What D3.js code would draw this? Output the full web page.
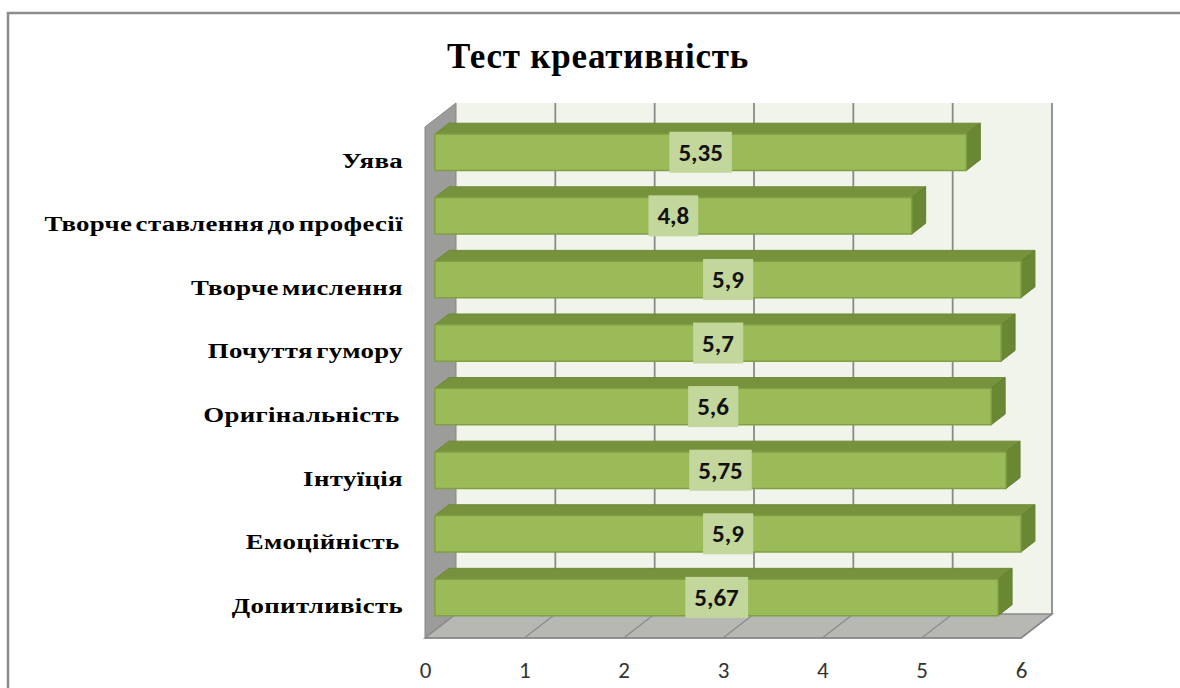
<!DOCTYPE html>
<html>
<head>
<meta charset="utf-8">
<script src="https://cdn.jsdelivr.net/npm/d3@7"></script>
<style>
  body { margin: 0; background: #fff; }
  svg { display: block; }
  .cat { white-space: pre; }
</style>
</head>
<body>
<script>
// chart data
const categories = ["Уява", "Творче ставлення до професії", "Творче мислення", "Почуття гумору",
                    "Оригінальність ", "Інтуїція", "Емоційність ", "Допитливість"];
const values = [5.35, 4.8, 5.9, 5.7, 5.6, 5.75, 5.9, 5.67];
const valueLabels = ["5,35", "4,8", "5,9", "5,7", "5,6", "5,75", "5,9", "5,67"];
const xTicks = [0, 1, 2, 3, 4, 5, 6];
const title = "Тест креативність";

const W = 1180, H = 688;
const DX = 31, DY = 24;       // depth offset of the back wall
const Z1 = 0.32, Z2 = 0.77;   // bar depth range
const yTop = 127, yBottom = 638;

const svg = d3.select("body").append("svg")
  .attr("width", W).attr("height", H);

// outer frame
svg.append("rect")
  .attr("x", 8).attr("y", 13).attr("width", 1190).attr("height", 700)
  .attr("fill", "#fff").attr("stroke", "#8c8c8c").attr("stroke-width", 2.5);

const x = d3.scaleLinear().domain([0, 6]).range([425, 1021]);
const y = d3.scaleBand().domain(categories).range([yTop, yBottom])
  .paddingInner(0.426).paddingOuter(0.231);

// project a point (value, screen y on front plane, depth)
function P(v, yy, z) {
  return [x(v) + z * DX, yy - z * DY];
}
const poly = pts => "M" + pts.map(p => p.join(",")).join("L") + "Z";

// walls
svg.append("path")
  .attr("d", poly([P(0, yTop, 1), P(6, yTop, 1), P(6, yBottom, 1), P(0, yBottom, 1)]))
  .attr("fill", "#f1f4eb");
svg.append("path")
  .attr("d", poly([P(0, yTop, 0), P(0, yTop, 1), P(0, yBottom, 1), P(0, yBottom, 0)]))
  .attr("fill", "#9c9d9a").attr("stroke", "#858585").attr("stroke-width", 1);
svg.append("path")
  .attr("d", poly([P(0, yBottom, 0), P(0, yBottom, 1), P(6, yBottom, 1), P(6, yBottom, 0)]))
  .attr("fill", "#b7b8b3").attr("stroke", "#8a8a8a").attr("stroke-width", 1.5);

// gridlines on back wall and floor
const grid = svg.append("g").attr("stroke", "#8a8a8a").attr("stroke-width", 1.8).attr("fill", "none");
grid.selectAll("path.gv")
  .data(xTicks.filter(t => t > 0))
  .enter().append("path")
    .attr("class", "gv")
    .attr("d", t => "M" + P(t, yTop, 1) + "L" + P(t, yBottom, 1));
grid.selectAll("path.gf")
  .data(xTicks.filter(t => t > 0))
  .enter().append("path")
    .attr("class", "gf")
    .attr("stroke-width", 1.2)
    .attr("d", t => "M" + P(t, yBottom, 1) + "L" + P(t, yBottom, 0));
// right edge of back wall / floor
svg.append("path")
  .attr("d", "M" + P(6, yBottom, 1) + "L" + P(6, yBottom, 0) + "L" + P(0, yBottom, 0))
  .attr("stroke", "#8a8a8a").attr("stroke-width", 1.5).attr("fill", "none");

// bars
const bars = svg.selectAll("g.bar")
  .data(categories.map((c, i) => ({ c, v: values[i], label: valueLabels[i] })))
  .enter().append("g").attr("class", "bar");

bars.append("path") // top face
  .attr("d", d => {
    const y0 = y(d.c);
    return poly([P(0, y0, Z1), P(d.v, y0, Z1), P(d.v, y0, Z2), P(0, y0, Z2)]);
  })
  .attr("fill", "#76923c").attr("stroke", "#6e8a36").attr("stroke-width", 1);
bars.append("path") // end face
  .attr("d", d => {
    const y0 = y(d.c), y1 = y0 + y.bandwidth();
    return poly([P(d.v, y0, Z1), P(d.v, y0, Z2), P(d.v, y1, Z2), P(d.v, y1, Z1)]);
  })
  .attr("fill", "#6a8834").attr("stroke", "#627f30").attr("stroke-width", 1);
bars.append("path") // front face
  .attr("d", d => {
    const y0 = y(d.c), y1 = y0 + y.bandwidth();
    return poly([P(0, y0, Z1), P(d.v, y0, Z1), P(d.v, y1, Z1), P(0, y1, Z1)]);
  })
  .attr("fill", "#9bbb59").attr("stroke", "#7f9f44").attr("stroke-width", 1.5);

// data labels
bars.each(function(d) {
  const g = d3.select(this);
  const c = P(d.v / 2, y(d.c) + y.bandwidth() / 2, Z1);
  const t = g.append("text")
    .attr("x", c[0]).attr("y", c[1])
    .attr("text-anchor", "middle").attr("dominant-baseline", "central")
    .attr("font-family", "Carlito, Lato, 'Open Sans', sans-serif")
    .attr("font-size", 25).attr("font-weight", 600).attr("fill", "#111")
    .text(d.label);
  const bb = t.node().getBBox();
  g.insert("rect", "text")
    .attr("x", bb.x - 9).attr("y", c[1] - 20.5)
    .attr("width", bb.width + 18).attr("height", 41)
    .attr("fill", "#c3d69b");
});

// category labels (stretched wide like the original rendering)
svg.append("g").selectAll("text")
  .data(categories)
  .enter().append("text")
    .attr("class", "cat")
    .attr("transform", d => `translate(403, ${y(d) + y.bandwidth() / 2}) scale(1.22, 1)`)
    .attr("text-anchor", "end").attr("dominant-baseline", "central")
    .attr("font-family", "'Liberation Serif', 'Times New Roman', serif")
    .attr("font-weight", "bold").attr("font-size", 22).attr("fill", "#000")
    .attr("letter-spacing", 0.3).attr("word-spacing", -3)
    .text(d => d);

// x axis labels
const axis = svg.append("g")
  .attr("transform", "translate(0, 654)")
  .call(d3.axisBottom(x).tickValues(xTicks).tickSize(0).tickPadding(8).tickFormat(d3.format("d")));
axis.select(".domain").remove();
axis.selectAll("text")
  .attr("font-family", "Carlito, Lato, 'Open Sans', sans-serif")
  .attr("font-size", 23).attr("fill", "#333");

// title
svg.append("text")
  .attr("x", 598).attr("y", 68)
  .attr("text-anchor", "middle")
  .attr("font-family", "'Liberation Serif', 'Times New Roman', serif")
  .attr("font-weight", "bold").attr("font-size", 35).attr("letter-spacing", 0.8)
  .text(title);
</script>
</body>
</html>
